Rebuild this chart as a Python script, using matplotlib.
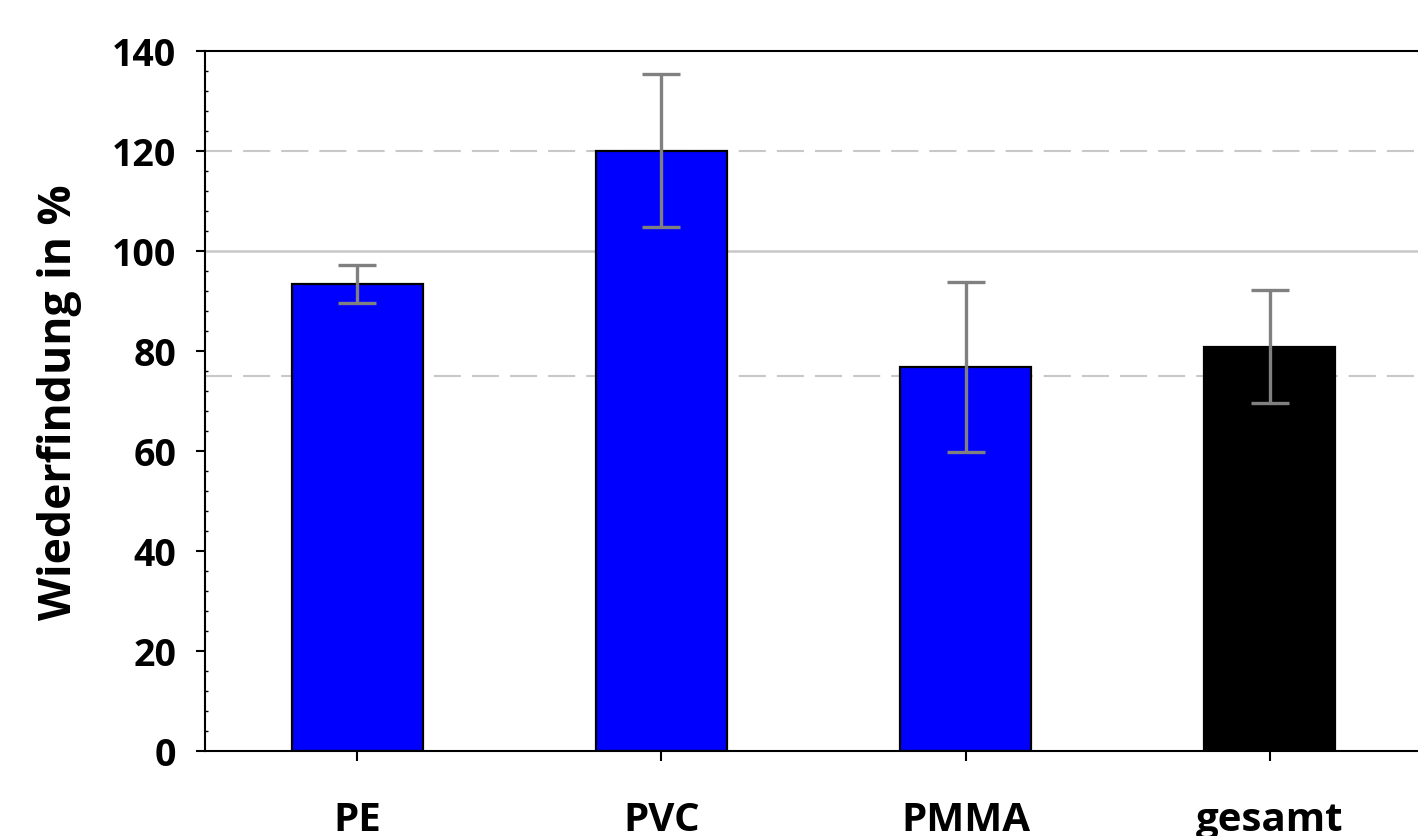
import matplotlib.pyplot as plt
from matplotlib.ticker import MultipleLocator

# data
categories = ["PE", "PVC", "PMMA", "gesamt"]
recovery = [93.4, 120.1, 76.9, 80.9]
std_dev = [3.8, 15.3, 17.0, 11.3]
bar_colors = ["#0000ff", "#0000ff", "#0000ff", "#000000"]
ref_dashed = [120, 75]
ref_solid = 100

plt.rcParams["font.family"] = ["Open Sans", "DejaVu Sans"]
plt.rcParams["font.weight"] = "bold"

fig = plt.figure(figsize=(14.18, 8.37), dpi=100)
ax = fig.add_axes([205 / 1418, 85 / 837, 1217 / 1418, 700 / 837])

# reference lines behind the bars
for y in ref_dashed:
    ax.axhline(y, color="#c8c8c8", lw=1.5, ls=(0, (13, 5.3)), zorder=0)
ax.axhline(ref_solid, color="#c8c8c8", lw=1.8, zorder=0)

x = range(len(categories))
ax.bar(x, recovery, width=0.43, color=bar_colors, edgecolor="black",
       linewidth=1.6, zorder=2)
ax.errorbar(x, recovery, yerr=std_dev, fmt="none", ecolor="#808080",
            elinewidth=2.4, capsize=14, capthick=2.4, zorder=3)

ax.set_xlim(-0.5, 3.5)
ax.set_ylim(0, 140)
ax.yaxis.set_major_locator(MultipleLocator(20))
ax.yaxis.set_minor_locator(MultipleLocator(4))
ax.set_xticks(list(x))
ax.set_xticklabels(categories)

ax.tick_params(axis="y", which="major", direction="out", length=6.5, width=1.5,
               labelsize=27, pad=14)
ax.tick_params(axis="y", which="minor", direction="in", length=2, width=1)
ax.tick_params(axis="x", direction="out", length=7, width=1.5,
               labelsize=29, pad=28)
for lab in ax.get_xticklabels() + ax.get_yticklabels():
    lab.set_fontweight("bold")

ax.set_ylabel("Wiederfindung in %", fontsize=32, fontweight="bold")
ax.yaxis.set_label_coords(-0.101, 0.5)

for side in ["left", "bottom", "top"]:
    ax.spines[side].set_linewidth(1.5)
ax.spines["right"].set_visible(False)

fig.savefig("out.png", dpi=100)
